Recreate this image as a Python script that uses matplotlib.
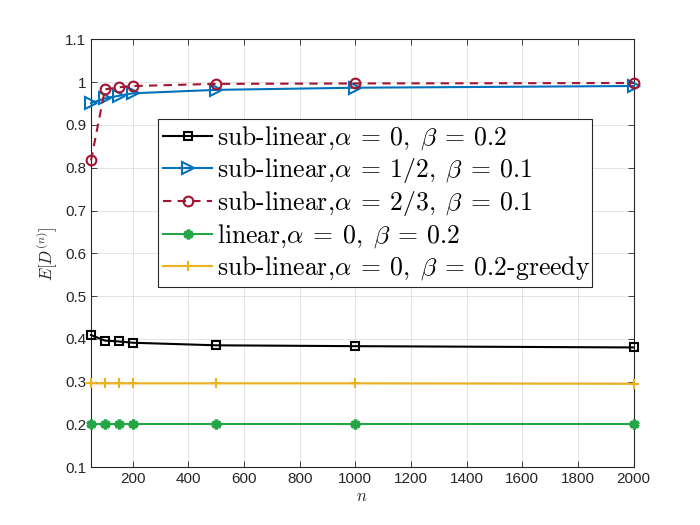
import numpy as np
import matplotlib
matplotlib.use("Agg")
import matplotlib.pyplot as plt
from matplotlib.ticker import FixedLocator, FuncFormatter

plt.rcParams['mathtext.fontset'] = 'cm'
plt.rcParams['font.family'] = ['Liberation Sans', 'DejaVu Sans']

# data
n_vals = [50, 100, 150, 200, 500, 1000, 2000]
sub_a0_b02 = [0.409, 0.396, 0.394, 0.391, 0.385, 0.383, 0.380]
sub_a12_b01 = [0.951, 0.962, 0.968, 0.974, 0.982, 0.987, 0.991]
sub_a23_b01 = [0.817, 0.983, 0.988, 0.991, 0.996, 0.997, 0.998]
lin_a0_b02 = [0.200, 0.200, 0.200, 0.200, 0.200, 0.200, 0.200]
greedy_a0_b02 = [0.296, 0.296, 0.296, 0.296, 0.296, 0.296, 0.295]

labels = [
    r'sub-linear,$\alpha\:=\:0,\;\beta\:=\:0.2$',
    r'sub-linear,$\alpha\:=\:1/2,\;\beta\:=\:0.1$',
    r'sub-linear,$\alpha\:=\:2/3,\;\beta\:=\:0.1$',
    r'linear,$\alpha\:=\:0,\;\beta\:=\:0.2$',
    r'sub-linear,$\alpha\:=\:0,\;\beta\:=\:0.2$-greedy',
]

fig = plt.figure(figsize=(7, 5.25), dpi=100)
ax = fig.add_axes([0.13, 0.11, 0.775, 0.815])

ax.plot(n_vals, sub_a0_b02, color='black', lw=1.5, marker='s', ms=6,
        mfc='none', mew=1.5, clip_on=False, label=labels[0], zorder=5)
ax.plot(n_vals, sub_a12_b01, color='#0072BD', lw=1.5, marker='>', ms=8,
        mfc='none', mew=1.5, clip_on=False, label=labels[1], zorder=5)
ax.plot(n_vals, sub_a23_b01, color='#A2142F', lw=1.5, ls=(0, (4, 3)), marker='o', ms=7,
        mfc='none', mew=1.5, clip_on=False, label=labels[2], zorder=6)
ax.plot(n_vals, lin_a0_b02, color='#24A647', lw=1.5, marker=(6, 2, 0), ms=7,
        mew=2.5, clip_on=False, label=labels[3], zorder=5)
ax.plot(n_vals, greedy_a0_b02, color='#EDB120', lw=1.5, marker='+', ms=7,
        mew=1.5, clip_on=False, label=labels[4], zorder=5)

ax.set_xlim(50, 2000)
ax.set_ylim(0.1, 1.1)
ax.xaxis.set_major_locator(FixedLocator(np.arange(200, 2001, 200)))
ax.yaxis.set_major_locator(FixedLocator(np.round(np.arange(0.1, 1.11, 0.1), 1)))
ax.yaxis.set_major_formatter(FuncFormatter(lambda v, p: f'{v:g}'))

ax.grid(True, color='#DFDFDF', lw=0.6)
ax.set_axisbelow(True)
ax.tick_params(direction='in', top=True, right=True, length=4, width=0.6,
               labelsize=11, colors='#262626', labelcolor='#262626')
for s in ax.spines.values():
    s.set_color('#262626')
    s.set_linewidth(0.8)

ax.set_xlabel(r'$n$', fontsize=12, color='#262626', labelpad=2)
ax.set_ylabel(r'$E[D^{(n)}]$', fontsize=12, color='#262626', labelpad=4)

leg = ax.legend(loc='lower left', bbox_to_anchor=(0.124, 0.421, 0.80, 0.39),
                mode='expand', prop={'family': 'cmr10', 'size': 18.5},
                fancybox=False, framealpha=1, edgecolor='#262626',
                handlelength=1.9, handletextpad=0.2, borderpad=0.2,
                labelspacing=0.16, borderaxespad=0)
leg.get_frame().set_linewidth(0.8)

fig.savefig('out.png', dpi=100)
